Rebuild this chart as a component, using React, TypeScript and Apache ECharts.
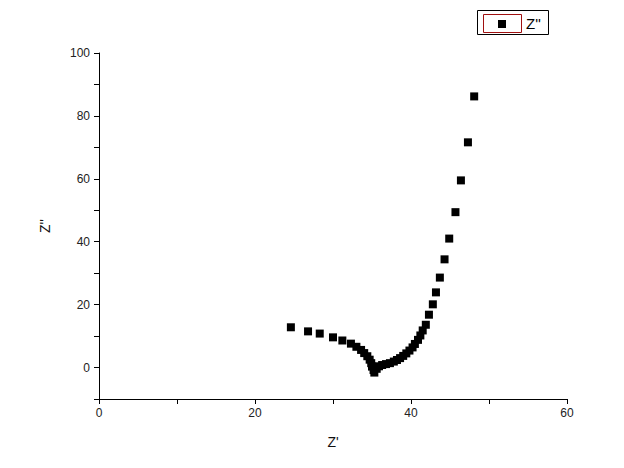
import React, { useEffect, useRef } from "react";
import * as echarts from "echarts";

const zReal: number[] = [
  24.6, 26.8, 28.3, 30.0, 31.2, 32.3, 33.0, 33.6, 34.0, 34.4, 34.7, 34.9, 35.0, 35.2, 35.3,
  35.6, 35.9, 36.3, 36.8, 37.3, 37.8, 38.2, 38.6, 39.0, 39.4, 39.8, 40.2, 40.5, 40.9, 41.2,
  41.5, 41.9, 42.3, 42.8, 43.2, 43.7, 44.3, 44.9, 45.7, 46.4, 47.3, 48.1,
];
const zImag: number[] = [
  12.8, 11.5, 10.8, 9.6, 8.6, 7.6, 6.6, 5.6, 4.6, 3.6, 2.5, 1.4, 0.3, -0.8, -1.6,
  -0.4, 0.4, 0.8, 1.1, 1.4, 1.9, 2.4, 3.0, 3.7, 4.5, 5.4, 6.4, 7.5, 8.8, 10.2,
  11.8, 13.6, 16.8, 20.1, 23.9, 28.6, 34.4, 41.0, 49.4, 59.5, 71.6, 86.2,
];
const xLabels: number[] = [0, 20, 40, 60];
const yLabels: number[] = [0, 20, 40, 60, 80, 100];
const seriesName = "Z''";

const FONT = "'Liberation Sans', Arial, sans-serif";

export default function App() {
  const ref = useRef<HTMLDivElement>(null);
  useEffect(() => {
    document.body.style.margin = "0";
    const chart = echarts.init(ref.current!, null, { renderer: "svg" });
    const data = zReal.map((x, i) => [x, zImag[i]]);
    chart.setOption({
      animation: false,
      backgroundColor: "#ffffff",
      grid: { left: 99, right: 57, top: 53, bottom: 69 },
      xAxis: {
        type: "value",
        min: 0,
        max: 60,
        interval: 10,
        name: "Z'",
        nameLocation: "middle",
        nameGap: 36,
        nameTextStyle: { fontFamily: FONT, fontSize: 14, color: "#111" },
        axisLine: { show: true, onZero: false, lineStyle: { color: "#000", width: 1 } },
        axisTick: { show: true, length: 5, lineStyle: { color: "#000" } },
        splitLine: { show: false },
        axisLabel: {
          fontFamily: FONT,
          fontSize: 12,
          color: "#222",
          margin: 8,
          formatter: (v: number) => (xLabels.includes(v) ? String(v) : ""),
        },
      },
      yAxis: {
        type: "value",
        min: -10,
        max: 100,
        interval: 10,
        name: "Z''",
        nameLocation: "middle",
        nameGap: 47,
        nameTextStyle: { fontFamily: FONT, fontSize: 14, color: "#111" },
        axisLine: { show: true, onZero: false, lineStyle: { color: "#000", width: 1 } },
        axisTick: { show: true, length: 5, lineStyle: { color: "#000" } },
        splitLine: { show: false },
        axisLabel: {
          fontFamily: FONT,
          fontSize: 12,
          color: "#222",
          margin: 9,
          formatter: (v: number) => (yLabels.includes(v) ? String(v) : ""),
        },
      },
      series: [
        {
          name: seriesName,
          type: "scatter",
          data,
          symbol: "rect",
          symbolSize: 8,
          itemStyle: { color: "#000", opacity: 1 },
        },
      ],
      graphic: [
        {
          type: "rect",
          shape: { x: 477.5, y: 10.5, width: 71, height: 24 },
          style: { fill: "#fff", stroke: "#000", lineWidth: 1 },
        },
        {
          type: "rect",
          shape: { x: 483.5, y: 14.5, width: 38, height: 18 },
          style: { fill: "none", stroke: "#a01010", lineWidth: 1 },
        },
        {
          type: "rect",
          shape: { x: 498, y: 20, width: 8, height: 8 },
          style: { fill: "#000" },
        },
        {
          type: "text",
          x: 526,
          y: 23,
          style: {
            text: seriesName,
            fontFamily: FONT,
            fontSize: 15,
            fill: "#000",
            verticalAlign: "middle",
          },
        },
      ],
    });
    return () => chart.dispose();
  }, []);
  return <div ref={ref} style={{ width: 624, height: 468 }} />;
}
